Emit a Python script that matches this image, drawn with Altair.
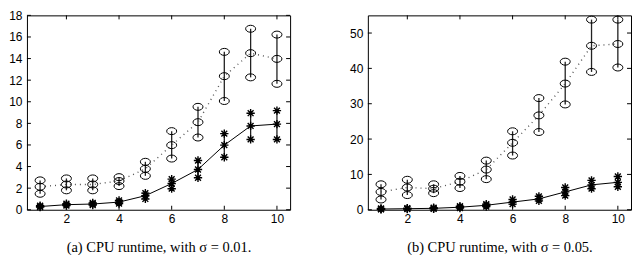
import altair as alt
import pandas as pd

# ---- data ----
x_vals = [1, 2, 3, 4, 5, 6, 7, 8, 9, 10]

# panel (a), sigma = 0.01
a_circ_lo = [1.48, 1.80, 1.80, 2.19, 3.14, 4.74, 6.69, 10.07, 12.26, 11.66]
a_circ_mid = [2.13, 2.34, 2.34, 2.66, 3.79, 5.98, 8.11, 12.37, 14.50, 13.97]
a_circ_hi = [2.72, 2.90, 2.90, 3.02, 4.44, 7.28, 9.53, 14.62, 16.76, 16.22]
a_star_lo = [0.25, 0.38, 0.44, 0.58, 1.00, 1.95, 2.96, 4.86, 6.51, 6.51]
a_star_mid = [0.30, 0.47, 0.53, 0.71, 1.30, 2.43, 3.73, 5.98, 7.76, 7.93]
a_star_hi = [0.38, 0.56, 0.64, 0.86, 1.54, 2.84, 4.56, 7.05, 8.94, 9.18]

# panel (b), sigma = 0.05
b_circ_lo = [2.90, 4.15, 4.70, 6.14, 8.66, 15.34, 22.0, 29.8, 39.0, 40.25]
b_circ_mid = [5.05, 6.30, 5.96, 7.94, 11.37, 18.95, 26.7, 35.7, 46.4, 46.9]
b_circ_hi = [7.20, 8.48, 7.20, 9.57, 13.90, 22.20, 31.6, 41.9, 53.8, 53.8]
b_star_lo = [0.10, 0.20, 0.25, 0.45, 0.90, 1.60, 2.50, 4.00, 5.96, 6.50]
b_star_mid = [0.20, 0.30, 0.40, 0.72, 1.26, 2.17, 3.07, 5.05, 7.04, 7.76]
b_star_hi = [0.35, 0.45, 0.60, 1.00, 1.60, 2.90, 3.80, 6.30, 8.30, 9.40]

x_ticks = [2, 4, 6, 8, 10]
a_y_ticks = [0, 2, 4, 6, 8, 10, 12, 14, 16, 18]
b_y_ticks = [0, 10, 20, 30, 40, 50]

captions = ["(a) CPU runtime, with σ = 0.01.", "(b) CPU runtime, with σ = 0.05."]

W, H = 264, 195
ELLIPSE = "M-1,0A1,0.7,0,1,1,1,0A1,0.7,0,1,1,-1,0Z"
ASTERISK = "M-1,0L1,0M0,-1L0,1M-0.7,-0.7L0.7,0.7M-0.7,0.7L0.7,-0.7"


def panel(c_lo, c_mid, c_hi, s_lo, s_mid, s_hi, y_max, y_ticks, caption):
    df = pd.DataFrame({
        "x": x_vals, "c_lo": c_lo, "c_mid": c_mid, "c_hi": c_hi,
        "s_lo": s_lo, "s_mid": s_mid, "s_hi": s_hi,
    })
    xscale = alt.Scale(domain=[0.5, 10.5], nice=False, zero=False)
    yscale = alt.Scale(domain=[0, y_max], nice=False)
    xaxis = alt.Axis(
        values=x_ticks, grid=False, domain=False, tickSize=0, labelPadding=4,
        labelFontSize=12, labelFont="Liberation Sans", labelColor="black",
        labelOverlap=False,
        title=caption, titleFont="Liberation Serif", titleFontSize=14.5,
        titleFontWeight="normal", titleColor="black", titlePadding=16)
    yaxis = alt.Axis(values=y_ticks, grid=False, domain=False, tickSize=0,
                     labelPadding=5, labelFontSize=12, labelFont="Liberation Sans",
                     labelColor="black", labelOverlap=False, title=None)

    def X(f):
        return alt.X(f, scale=xscale, axis=xaxis)

    def Y(f):
        return alt.Y(f, scale=yscale, axis=yaxis)

    base = alt.Chart(df)
    c_bar = base.mark_rule(color="#222", strokeWidth=1.3).encode(
        x=X("x:Q"), y=Y("c_lo:Q"), y2="c_hi:Q")
    s_bar = base.mark_rule(color="#222", strokeWidth=1.3).encode(
        x=X("x:Q"), y=Y("s_lo:Q"), y2="s_hi:Q")
    c_line = base.mark_line(color="#555", strokeWidth=1.4, strokeDash=[1, 4]).encode(
        x=X("x:Q"), y=Y("c_mid:Q"))
    s_line = base.mark_line(color="black", strokeWidth=1).encode(
        x=X("x:Q"), y=Y("s_mid:Q"))
    c_pts = base.transform_fold(["c_lo", "c_mid", "c_hi"], as_=["k", "v"]).mark_point(
        shape=ELLIPSE, size=100, filled=False, color="black", strokeWidth=1, opacity=1
    ).encode(x=X("x:Q"), y=Y("v:Q"))
    s_pts = base.transform_fold(["s_lo", "s_mid", "s_hi"], as_=["k", "v"]).mark_point(
        shape=ASTERISK, size=70, filled=False, color="black", strokeWidth=1.4, opacity=1
    ).encode(x=X("x:Q"), y=Y("v:Q"))

    xt = alt.Chart(pd.DataFrame({"x": x_ticks}))
    yt = alt.Chart(pd.DataFrame({"v": y_ticks}))
    t_bottom = xt.mark_rule(color="black", strokeWidth=1).encode(
        x=X("x:Q"), y=alt.value(H), y2=alt.value(H - 4))
    t_top = xt.mark_rule(color="black", strokeWidth=1).encode(
        x=X("x:Q"), y=alt.value(0), y2=alt.value(4))
    t_left = yt.mark_rule(color="black", strokeWidth=1).encode(
        y=Y("v:Q"), x=alt.value(0), x2=alt.value(4))
    t_right = yt.mark_rule(color="black", strokeWidth=1).encode(
        y=Y("v:Q"), x=alt.value(W), x2=alt.value(W - 4))

    return alt.layer(c_bar, s_bar, c_line, s_line, c_pts, s_pts,
                     t_bottom, t_top, t_left, t_right).properties(width=W, height=H)


left = panel(a_circ_lo, a_circ_mid, a_circ_hi, a_star_lo, a_star_mid, a_star_hi,
             18, a_y_ticks, captions[0])
right = panel(b_circ_lo, b_circ_mid, b_circ_hi, b_star_lo, b_star_mid, b_star_hi,
              55, b_y_ticks, captions[1])

chart = alt.hconcat(left, right, spacing=58).properties(
    padding=0, background="white"
).configure_view(stroke="black", strokeWidth=1)

chart.save("out.html", embed_options={"renderer": "svg", "actions": False})
